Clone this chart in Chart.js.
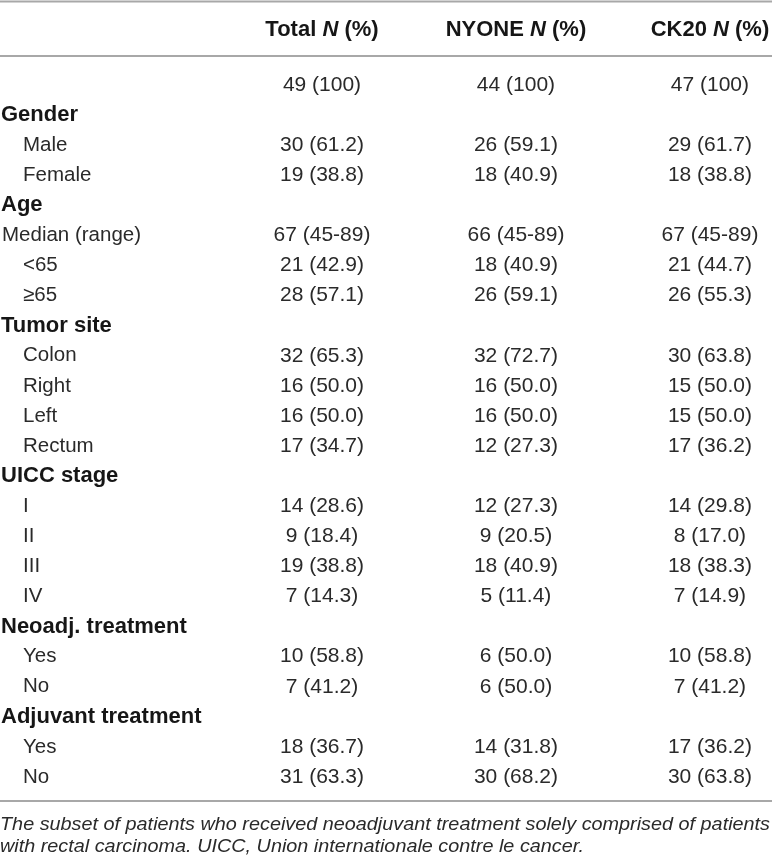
<!DOCTYPE html>
<html>
<head>
<meta charset="utf-8">
<script src="https://cdn.jsdelivr.net/npm/chart.js@4"></script>
<style>
html,body{margin:0;padding:0;background:#fff;}
#wrap{width:772px;height:862px;}
</style>
</head>
<body>
<div id="wrap"><canvas id="c" width="772" height="862"></canvas></div>
<script>
// ---- data ----
const columnNames = ['Total', 'NYONE', 'CK20'];
const rowLabels = ['', 'Gender', 'Male', 'Female', 'Age', 'Median (range)', '<65', '\u226565',
  'Tumor site', 'Colon', 'Right', 'Left', 'Rectum', 'UICC stage', 'I', 'II', 'III', 'IV',
  'Neoadj. treatment', 'Yes', 'No', 'Adjuvant treatment', 'Yes', 'No'];
// h = section heading (bold), p = plain, i = indented
const rowKinds = ['p', 'h', 'i', 'i', 'h', 'p', 'i', 'i', 'h', 'i', 'i', 'i', 'i', 'h', 'i', 'i', 'i', 'i', 'h', 'i', 'i', 'h', 'i', 'i'];
const totalValues = ['49 (100)', '', '30 (61.2)', '19 (38.8)', '', '67 (45-89)', '21 (42.9)', '28 (57.1)',
  '', '32 (65.3)', '16 (50.0)', '16 (50.0)', '17 (34.7)', '', '14 (28.6)', '9 (18.4)', '19 (38.8)', '7 (14.3)',
  '', '10 (58.8)', '7 (41.2)', '', '18 (36.7)', '31 (63.3)'];
const nyoneValues = ['44 (100)', '', '26 (59.1)', '18 (40.9)', '', '66 (45-89)', '18 (40.9)', '26 (59.1)',
  '', '32 (72.7)', '16 (50.0)', '16 (50.0)', '12 (27.3)', '', '12 (27.3)', '9 (20.5)', '18 (40.9)', '5 (11.4)',
  '', '6 (50.0)', '6 (50.0)', '', '14 (31.8)', '30 (68.2)'];
const ck20Values = ['47 (100)', '', '29 (61.7)', '18 (38.8)', '', '67 (45-89)', '21 (44.7)', '26 (55.3)',
  '', '30 (63.8)', '15 (50.0)', '15 (50.0)', '17 (36.2)', '', '14 (29.8)', '8 (17.0)', '18 (38.3)', '7 (14.9)',
  '', '10 (58.8)', '7 (41.2)', '', '17 (36.2)', '30 (63.8)'];
const captionLines = [
  'The subset of patients who received neoadjuvant treatment solely comprised of patients',
  'with rectal carcinoma. UICC, Union internationale contre le cancer.'
];

// ---- build ----
const valueColumns = [totalValues, nyoneValues, ck20Values];
const FONT = '"Liberation Sans", Arial, Helvetica, sans-serif';
const TEXT_BOLD = '#161616';
const TEXT = '#2a2a2a';
const RULE = '#a8a8a8';

const datasets = [];
datasets.push({
  label: 'labels',
  data: rowLabels.map((t, i) => ({ x: 0, y: i, t: t, k: rowKinds[i] })).filter(d => d.t !== ''),
  pointRadius: 0, role: 'label'
});
valueColumns.forEach((vals, c) => {
  datasets.push({
    label: columnNames[c],
    data: vals.map((t, i) => ({ x: c + 1, y: i, t: t })).filter(d => d.t !== ''),
    pointRadius: 0, role: 'value'
  });
});

const tablePlugin = {
  id: 'tableText',
  afterDatasetsDraw(chart) {
    const ctx = chart.ctx;
    const area = chart.chartArea;
    const xs = chart.scales.x;
    ctx.save();
    ctx.textBaseline = 'middle';
    chart.data.datasets.forEach((ds, di) => {
      const meta = chart.getDatasetMeta(di);
      meta.data.forEach((el, j) => {
        const d = ds.data[j];
        if (ds.role === 'label') {
          ctx.textAlign = 'left';
          if (d.k === 'h') {
            ctx.fillStyle = TEXT_BOLD;
            ctx.font = 'bold 22px ' + FONT;
            ctx.fillText(d.t, area.left + 1, el.y);
          } else {
            ctx.fillStyle = TEXT;
            ctx.font = '20.5px ' + FONT;
            ctx.fillText(d.t, area.left + (d.k === 'i' ? 23 : 2), el.y);
          }
        } else {
          ctx.fillStyle = TEXT;
          ctx.textAlign = 'center';
          ctx.font = '21px ' + FONT;
          ctx.fillText(d.t, el.x, el.y);
        }
      });
    });

    // header row
    ctx.fillStyle = TEXT_BOLD;
    const headY = area.top - 40;
    columnNames.forEach((name, c) => {
      const cx = xs.getPixelForValue(c + 1);
      const parts = [
        { s: name + ' ', f: 'bold 22px ' + FONT },
        { s: 'N', f: 'italic bold 22px ' + FONT },
        { s: ' (%)', f: 'bold 22px ' + FONT }
      ];
      let w = 0;
      parts.forEach(p => { ctx.font = p.f; p.w = ctx.measureText(p.s).width; w += p.w; });
      let x = cx - w / 2;
      ctx.textAlign = 'left';
      parts.forEach(p => { ctx.font = p.f; ctx.fillText(p.s, x, headY); x += p.w; });
    });

    // rules
    ctx.strokeStyle = RULE;
    ctx.lineWidth = 2;
    [1.5, area.top - 14, area.bottom + 9].forEach(y => {
      ctx.beginPath();
      ctx.moveTo(0, y);
      ctx.lineTo(chart.width, y);
      ctx.stroke();
    });

    // caption (slightly wide italic, filling the table width)
    ctx.font = 'italic 18px ' + FONT;
    ctx.fillStyle = '#2a2a2a';
    ctx.textAlign = 'left';
    const sx = 770 / ctx.measureText(captionLines[0]).width;
    captionLines.forEach((line, i) => {
      ctx.save();
      ctx.translate(0, area.bottom + 33 + i * 22);
      ctx.scale(sx, 1);
      ctx.fillText(line, 0, 0);
      ctx.restore();
    });
    ctx.restore();
  }
};

new Chart(document.getElementById('c'), {
  type: 'scatter',
  data: { datasets },
  options: {
    responsive: false,
    animation: false,
    events: [],
    layout: { padding: { top: 70, bottom: 70, left: 0, right: 0 } },
    plugins: { legend: { display: false }, tooltip: { enabled: false } },
    scales: {
      x: { type: 'linear', display: false, min: -0.66, max: 3.32 },
      y: { type: 'linear', display: false, reverse: true, min: -0.5, max: rowLabels.length - 0.5 }
    }
  },
  plugins: [tablePlugin]
});
</script>
</body>
</html>
